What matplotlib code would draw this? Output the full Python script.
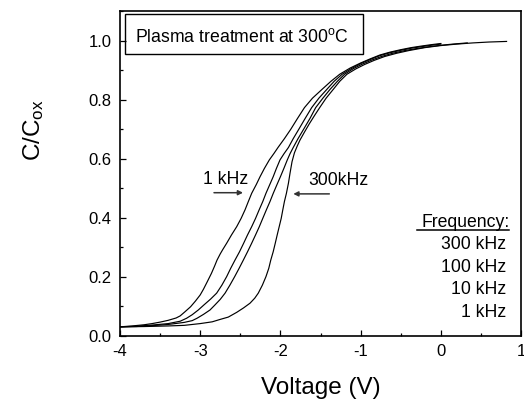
import matplotlib
matplotlib.use("Agg")
import matplotlib.pyplot as plt
from matplotlib.ticker import MultipleLocator, FormatStrFormatter
from matplotlib.lines import Line2D
from matplotlib.patches import Rectangle

plt.rcParams['font.family'] = ['Liberation Sans', 'DejaVu Sans']
plt.rcParams['mathtext.fontset'] = 'custom'
plt.rcParams['mathtext.rm'] = 'Liberation Sans'
plt.rcParams['mathtext.it'] = 'Liberation Sans:italic'

# ---- data ----
v_1k = [-4.0, -3.85, -3.7, -3.6, -3.5, -3.4, -3.3, -3.25, -3.19, -3.12, -3.06, -3.0,
        -2.96, -2.915, -2.86, -2.82, -2.79, -2.75, -2.72, -2.67, -2.61, -2.545, -2.49,
        -2.441, -2.40, -2.358, -2.30, -2.254, -2.20, -2.138, -2.08, -2.03, -1.95, -1.87,
        -1.79, -1.70, -1.60, -1.48, -1.37, -1.26, -1.13, -1.0, -0.88, -0.76, -0.63,
        -0.5, -0.37, -0.25, -0.12, 0.0]
c_1k = [0.031, 0.034, 0.038, 0.042, 0.047, 0.053, 0.061, 0.068, 0.082, 0.099, 0.118, 0.139,
        0.158, 0.182, 0.212, 0.237, 0.257, 0.278, 0.292, 0.314, 0.342, 0.370, 0.398,
        0.427, 0.455, 0.483, 0.513, 0.539, 0.567, 0.596, 0.618, 0.638, 0.668, 0.700,
        0.735, 0.773, 0.805, 0.835, 0.862, 0.886, 0.907, 0.924, 0.938, 0.951, 0.961,
        0.969, 0.976, 0.981, 0.986, 0.990]

v_10k = [-4.0, -3.8, -3.6, -3.4, -3.25, -3.17, -3.10, -3.024, -2.95, -2.87, -2.795,
         -2.73, -2.67, -2.62, -2.566, -2.51, -2.46, -2.41, -2.358, -2.31, -2.265, -2.22,
         -2.18, -2.135, -2.09, -2.05, -2.005, -1.955, -1.90, -1.84, -1.77, -1.69, -1.61,
         -1.52, -1.42, -1.33, -1.23, -1.11, -1.0, -0.88, -0.76, -0.63, -0.5, -0.37,
         -0.25, -0.12, 0.0]
c_10k = [0.031, 0.033, 0.037, 0.042, 0.050, 0.060, 0.072, 0.088, 0.106, 0.125, 0.145,
         0.172, 0.201, 0.229, 0.257, 0.285, 0.313, 0.342, 0.370, 0.398, 0.427, 0.455,
         0.483, 0.511, 0.539, 0.567, 0.596, 0.617, 0.638, 0.668, 0.700, 0.737, 0.773,
         0.805, 0.835, 0.862, 0.886, 0.906, 0.922, 0.936, 0.949, 0.959, 0.967, 0.974,
         0.979, 0.984, 0.988]

v_100k = [-4.0, -3.8, -3.6, -3.4, -3.2, -3.1, -3.04, -2.96, -2.878, -2.82, -2.75, -2.69,
          -2.63, -2.57, -2.515, -2.462, -2.41, -2.36, -2.31, -2.263, -2.22, -2.175, -2.13,
          -2.089, -2.045, -2.0, -1.957, -1.914, -1.88, -1.84, -1.78, -1.71, -1.63, -1.56,
          -1.47, -1.38, -1.29, -1.20, -1.09, -0.98, -0.86, -0.74, -0.6, -0.45, -0.3,
          -0.15, 0.0, 0.15, 0.33]
c_100k = [0.031, 0.032, 0.035, 0.039, 0.046, 0.052, 0.060, 0.073, 0.088, 0.104, 0.124, 0.145,
          0.172, 0.201, 0.229, 0.257, 0.285, 0.313, 0.342, 0.370, 0.398, 0.427, 0.455,
          0.483, 0.511, 0.539, 0.567, 0.596, 0.617, 0.638, 0.668, 0.700, 0.737, 0.773,
          0.805, 0.835, 0.862, 0.886, 0.905, 0.920, 0.934, 0.946, 0.957, 0.966, 0.973,
          0.979, 0.984, 0.988, 0.992]

v_300k = [-4.0, -3.7, -3.4, -3.2, -3.0, -2.85, -2.753, -2.65, -2.545, -2.46, -2.379,
          -2.32, -2.276, -2.225, -2.18, -2.145, -2.12, -2.09, -2.065, -2.04, -2.015,
          -1.99, -1.97, -1.95, -1.925, -1.90, -1.88, -1.855, -1.825, -1.79, -1.756,
          -1.70, -1.64, -1.575, -1.51, -1.43, -1.34, -1.26, -1.17, -1.06, -0.95, -0.83,
          -0.70, -0.55, -0.4, -0.2, 0.0, 0.2, 0.4, 0.6, 0.82]
c_300k = [0.031, 0.032, 0.034, 0.036, 0.042, 0.048, 0.056, 0.064, 0.080, 0.095, 0.111,
          0.128, 0.145, 0.172, 0.201, 0.229, 0.257, 0.285, 0.313, 0.342, 0.370,
          0.398, 0.427, 0.455, 0.483, 0.517, 0.551, 0.590, 0.620, 0.643, 0.663,
          0.690, 0.718, 0.746, 0.773, 0.805, 0.835, 0.862, 0.886, 0.904, 0.919, 0.933,
          0.946, 0.957, 0.966, 0.976, 0.983, 0.988, 0.992, 0.995, 0.997]

x_ticks = [-4, -3, -2, -1, 0, 1]
y_ticks = [0.0, 0.2, 0.4, 0.6, 0.8, 1.0]
legend_title = "Frequency:"
legend_items = ["300 kHz", "100 kHz", "10 kHz", "1 kHz"]

# ---- figure ----
fig = plt.figure(figsize=(5.24, 4.03), dpi=100)
ax = fig.add_axes([120/524, 1-336/403, 401/524, 325/403])

for v, c in [(v_1k, c_1k), (v_10k, c_10k), (v_100k, c_100k), (v_300k, c_300k)]:
    ax.plot(v, c, color='black', lw=0.85, solid_joinstyle='round')

ax.set_xlim(-4, 1)
ax.set_ylim(0, 1.1)
ax.set_xticks(x_ticks)
ax.set_yticks(y_ticks)
ax.xaxis.set_minor_locator(MultipleLocator(0.5))
ax.yaxis.set_minor_locator(MultipleLocator(0.1))
ax.yaxis.set_major_formatter(FormatStrFormatter('%.1f'))
ax.xaxis.set_major_formatter(FormatStrFormatter('%d'))
ax.tick_params(which='both', direction='in', top=False, right=False, width=0.9)
ax.tick_params(which='major', length=4.5, labelsize=12, pad=6)
ax.tick_params(which='minor', length=2.4)
for s in ax.spines.values():
    s.set_linewidth(1.2)

ax.set_xlabel("Voltage (V)", fontsize=17.5)
ax.xaxis.set_label_coords(0.5, -0.125)
ax.set_ylabel("C/C$_{\\mathregular{ox}}$", fontsize=17.5)
ax.yaxis.set_label_coords(-0.185, 0.634)

# title box
ax.add_patch(Rectangle((5/401, (336-54)/325), 238/401, 40/325, transform=ax.transAxes,
                       fill=False, lw=1.0, ec='black'))
ax.text(0.0374, 0.904, "Plasma treatment at 300$^{\\mathregular{o}}$C", transform=ax.transAxes,
        fontsize=12.7, ha='left', va='baseline')

# arrow annotations
ax.annotate("", xy=(-2.466, 0.485), xytext=(-2.828, 0.485),
            arrowprops=dict(arrowstyle='-|>', color='#333333', lw=1.1,
                            mutation_scale=7, shrinkA=0, shrinkB=0))
ax.annotate("", xy=(-1.839, 0.481), xytext=(-1.390, 0.481),
            arrowprops=dict(arrowstyle='-|>', color='#333333', lw=1.1,
                            mutation_scale=7, shrinkA=0, shrinkB=0))
ax.text(-2.961, 0.513, "1 kHz", fontsize=12.7, ha='left', va='baseline')
ax.text(-1.652, 0.511, "300kHz", fontsize=12.7, ha='left', va='baseline')

# frequency list
ax.text(0.971, 0.336, legend_title, transform=ax.transAxes, fontsize=12.7,
        ha='right', va='baseline')
ax.add_line(Line2D([0.741, 0.970], [0.326, 0.326], transform=ax.transAxes,
                   color='black', lw=1.1))
for i, lab in enumerate(legend_items):
    ax.text(0.963, 0.267 - i*0.0693, lab, transform=ax.transAxes, fontsize=12.7,
            ha='right', va='baseline')

fig.savefig("out.png", dpi=100)
